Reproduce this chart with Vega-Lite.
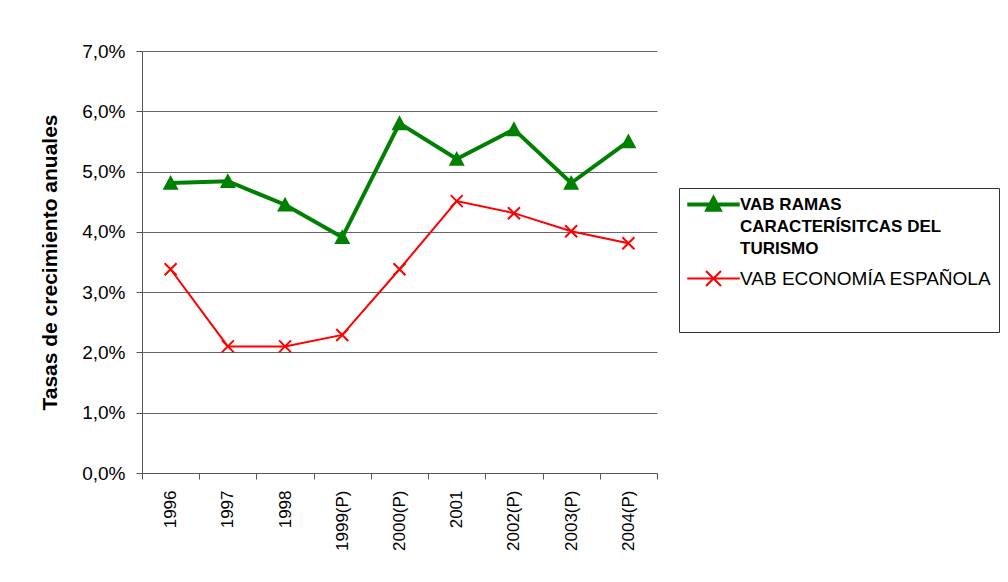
{
  "$schema": "https://vega.github.io/schema/vega-lite/v6.json",
  "width": 515,
  "height": 422,
  "autosize": {"type": "none"},
  "padding": {"left": 142, "top": 51, "right": 351, "bottom": 109},
  "background": "white",
  "config": {
    "font": "Liberation Sans",
    "view": {"stroke": null},
    "axis": {"labelColor": "#000", "titleColor": "#000", "domainColor": "#555", "tickColor": "#555", "gridColor": "#666", "labelFont": "Liberation Sans", "titleFont": "Liberation Sans"}
  },
  "data": {
    "values": [
      {"year": "1996", "series": "VAB RAMAS CARACTERÍSITCAS DEL TURISMO", "value": 0.0481},
      {"year": "1997", "series": "VAB RAMAS CARACTERÍSITCAS DEL TURISMO", "value": 0.0484},
      {"year": "1998", "series": "VAB RAMAS CARACTERÍSITCAS DEL TURISMO", "value": 0.0445},
      {"year": "1999(P)", "series": "VAB RAMAS CARACTERÍSITCAS DEL TURISMO", "value": 0.0391},
      {"year": "2000(P)", "series": "VAB RAMAS CARACTERÍSITCAS DEL TURISMO", "value": 0.0580},
      {"year": "2001", "series": "VAB RAMAS CARACTERÍSITCAS DEL TURISMO", "value": 0.0521},
      {"year": "2002(P)", "series": "VAB RAMAS CARACTERÍSITCAS DEL TURISMO", "value": 0.0570},
      {"year": "2003(P)", "series": "VAB RAMAS CARACTERÍSITCAS DEL TURISMO", "value": 0.0481},
      {"year": "2004(P)", "series": "VAB RAMAS CARACTERÍSITCAS DEL TURISMO", "value": 0.0550},
      {"year": "1996", "series": "VAB ECONOMÍA ESPAÑOLA", "value": 0.0338},
      {"year": "1997", "series": "VAB ECONOMÍA ESPAÑOLA", "value": 0.0210},
      {"year": "1998", "series": "VAB ECONOMÍA ESPAÑOLA", "value": 0.0210},
      {"year": "1999(P)", "series": "VAB ECONOMÍA ESPAÑOLA", "value": 0.0229},
      {"year": "2000(P)", "series": "VAB ECONOMÍA ESPAÑOLA", "value": 0.0338},
      {"year": "2001", "series": "VAB ECONOMÍA ESPAÑOLA", "value": 0.0451},
      {"year": "2002(P)", "series": "VAB ECONOMÍA ESPAÑOLA", "value": 0.0431},
      {"year": "2003(P)", "series": "VAB ECONOMÍA ESPAÑOLA", "value": 0.0401},
      {"year": "2004(P)", "series": "VAB ECONOMÍA ESPAÑOLA", "value": 0.0381}
    ]
  },
  "encoding": {
    "x": {
      "field": "year", "type": "ordinal", "sort": null,
      "scale": {"type": "band", "paddingInner": 0, "paddingOuter": 0},
      "axis": {"title": null, "tickBand": "extent", "labelAngle": -90, "labelFontSize": 17, "labelPadding": 11, "tickSize": 6, "grid": false}
    },
    "y": {
      "field": "value", "type": "quantitative",
      "scale": {"domain": [0, 0.07], "nice": false},
      "axis": {
        "title": "Tasas de crecimiento anuales", "titleFontSize": 21, "titleFontWeight": "bold", "titlePadding": 21,
        "values": [0, 0.01, 0.02, 0.03, 0.04, 0.05, 0.06, 0.07],
        "labelExpr": "replace(format(datum.value, '.1%'), '.', ',')",
        "labelFontSize": 19, "labelPadding": 11, "tickSize": 6, "grid": true
      }
    }
  },
  "layer": [
    {
      "mark": {"type": "line"},
      "encoding": {
        "color": {
          "field": "series", "type": "nominal",
          "scale": {"domain": ["VAB RAMAS CARACTERÍSITCAS DEL TURISMO", "VAB ECONOMÍA ESPAÑOLA"], "range": ["#008000", "#FF0000"]},
          "legend": {
            "title": null, "orient": "none", "legendX": 537, "legendY": 137,
            "strokeColor": "#333", "fillColor": "white", "padding": 7,
            "labelFont": "Liberation Sans", "labelFontSize": 19, "labelColor": "#000",
            "symbolOffset": 18, "labelOffset": 17, "symbolSize": 225, "labelLimit": 400, "rowPadding": 10,
            "labelExpr": "datum.label == 'VAB RAMAS CARACTERÍSITCAS DEL TURISMO' ? ['VAB RAMAS', 'CARACTERÍSITCAS DEL', 'TURISMO'] : [datum.label, ' ', '\u00a0\u00a0\u00a0\u00a0\u00a0\u00a0\u00a0\u00a0\u00a0\u00a0\u00a0\u00a0\u00a0\u00a0\u00a0\u00a0\u00a0\u00a0\u00a0\u00a0\u00a0\u00a0\u00a0\u00a0\u00a0\u00a0\u00a0\u00a0\u00a0\u00a0\u00a0\u00a0\u00a0\u00a0\u00a0\u00a0\u00a0\u00a0\u00a0\u00a0\u00a0\u00a0\u00a0\u00a0\u00a0\u00a0\u00a0\u00a0\u00a0\u00a0\u00a0\u00a0']",
            "encode": {
              "symbols": {"update": {
                "shape": {"signal": "datum.index == 0 ? 'M-3.5,0H3.5M-0.8,0.7L0,-0.8L0.8,0.7Z' : 'M-3.5,0H3.5M-1,-1L1,1M-1,1L1,-1'"},
                "strokeWidth": {"signal": "datum.index == 0 ? 4 : 2"},
                "fill": {"signal": "datum.index == 0 ? '#008000' : 'transparent'"},
                "stroke": {"signal": "datum.index == 0 ? '#008000' : '#FF0000'"},
                "size": {"value": 225}
              }},
              "labels": {"update": {
                "fontWeight": {"signal": "datum.index == 0 ? 'bold' : 'normal'"},
                "fontSize": {"signal": "datum.index == 0 ? 17 : 19"},
                "lineHeight": {"signal": "datum.index == 0 ? 22 : 18"}
              }}
            }
          }
        },
        "strokeWidth": {
          "field": "series", "type": "nominal",
          "scale": {"domain": ["VAB RAMAS CARACTERÍSITCAS DEL TURISMO", "VAB ECONOMÍA ESPAÑOLA"], "range": [4, 2]},
          "legend": null
        }
      }
    },
    {
      "transform": [{"filter": "datum.series == 'VAB RAMAS CARACTERÍSITCAS DEL TURISMO'"}],
      "mark": {"type": "point", "shape": "M0,-1L1,0.85L-1,0.85Z", "filled": true, "color": "#008000", "size": 256, "opacity": 1}
    },
    {
      "transform": [{"filter": "datum.series == 'VAB ECONOMÍA ESPAÑOLA'"}],
      "mark": {"type": "point", "shape": "M-1,-1L1,1M-1,1L1,-1", "filled": false, "color": "#FF0000", "strokeWidth": 2, "size": 144, "opacity": 1}
    }
  ]
}
